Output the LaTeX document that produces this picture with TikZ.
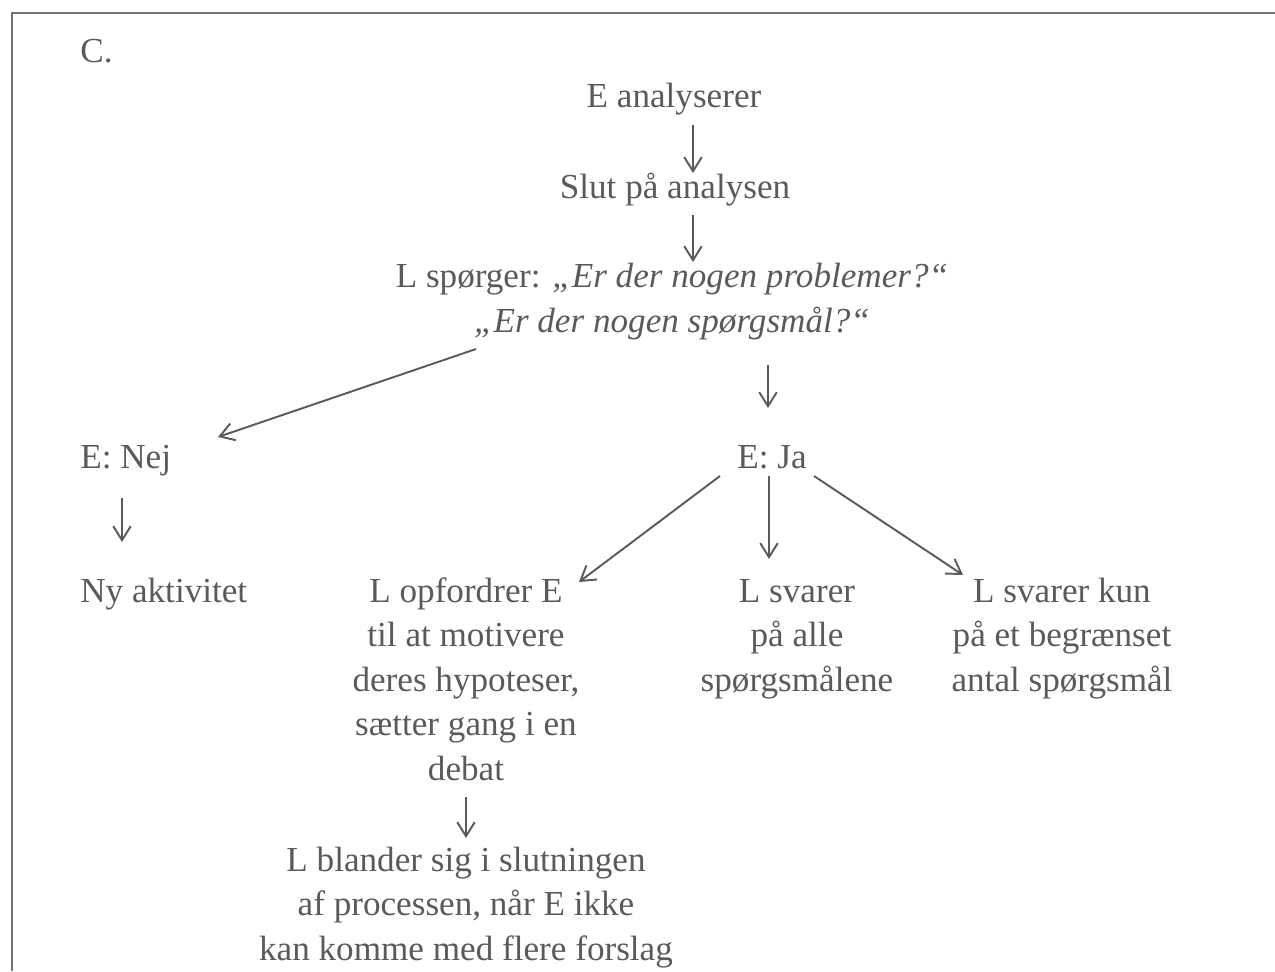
\documentclass[tikz,border=0pt]{standalone}
\usepackage{fontspec}
\setmainfont{Liberation Serif}
\usetikzlibrary{arrows.meta,calc}
\definecolor{ink}{HTML}{5A5A5A}

\begin{document}
\begin{tikzpicture}[x=0.02cm,y=-0.02cm,>={Straight Barb[length=8pt,width=10pt]},
  txt/.style={text=ink,font=\fontsize{20}{25.3}\selectfont,inner sep=0pt,anchor=base},
  blk/.style={txt,align=center},
  arr/.style={->,draw=ink,line width=1.1pt}]
\useasboundingbox (0,0) rectangle (1275,971);
\draw[ink!85,line width=1.3pt] (1275,13)--(12,13)--(12,971);
\node[txt,anchor=base west] (lbl) at (80,62) {C.};
\node[txt] (ana) at (674,107) {E analyserer};
\node[txt] (slut) at (675,198) {Slut på analysen};
\node[blk] (spm) at (672,332) {L spørger: \textit{„Er der nogen problemer?“}\\\textit{„Er der nogen spørgsmål?“}};
\node[txt,anchor=base west] (nej) at (80,468) {E: Nej};
\node[txt] (ja) at (772,468) {E: Ja};
\node[txt,anchor=base west] (ny) at (80,602) {Ny aktivitet};
\node[blk] (opf) at (466,780) {L opfordrer E\\til at motivere\\deres hypoteser,\\sætter gang i en\\debat};
\node[blk] (alle) at (797,691) {L svarer\\på alle\\spørgsmålene};
\node[blk] (kun) at (1062,691) {L svarer kun\\på et begrænset\\antal spørgsmål};
\node[blk] (bland) at (466,960) {L blander sig i slutningen\\af processen, når E ikke\\kan komme med flere forslag};
\draw[arr] ($(ana.base)+(19,18)$)--($(slut.base)+(18,-25)$);
\draw[arr] ($(slut.base)+(18,17)$)--($(spm.base)+(21,-70)$);
\draw[arr] ($(spm.base)+(96,33)$)--($(ja.base)+(-4,-60)$);
\draw[arr] ($(spm.base)+(-196,17)$)--($(nej.base west)+(138,-31)$);
\draw[arr] ($(nej.base west)+(42,30)$)--($(ny.base west)+(42,-60)$);
\draw[arr] ($(ja.base)+(-52,8)$)--($(opf.base)+(113,-198)$);
\draw[arr] ($(ja.base)+(-3,8)$)--($(alle.base)+(-28,-132)$);
\draw[arr] ($(ja.base)+(42,8)$)--($(kun.base)+(-99,-116)$);
\draw[arr] ($(opf.base)+(0,17)$)--($(bland.base)+(0,-122)$);
\end{tikzpicture}
\end{document}
